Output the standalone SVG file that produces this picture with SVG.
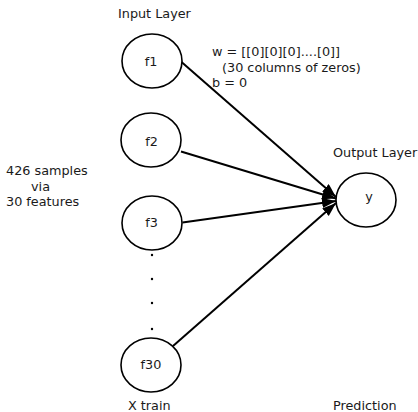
<svg xmlns="http://www.w3.org/2000/svg" width="418" height="412" viewBox="0 0 418 412">
<defs>
<style>
text{font-family:"DejaVu Sans",sans-serif;font-size:12.8px;fill:#1a1a1a}
.node ellipse{fill:#fff;stroke:#000;stroke-width:1.6}
.edge{stroke:#000;stroke-width:2;fill:none;marker-end:url(#ah)}
.c{text-anchor:middle}
</style>
<marker id="ah" markerUnits="userSpaceOnUse" markerWidth="16" markerHeight="11" refX="14" refY="5" orient="auto">
<path d="M0,0 L14,5 L0,10 z" fill="#000"/>
</marker>
</defs>
<rect width="418" height="412" fill="#fff"/>
<text x="118" y="17.5">Input Layer</text>
<text x="333" y="157">Output Layer</text>
<text x="6" y="175">426 samples</text>
<text x="31" y="190.5">via</text>
<text x="6" y="206">30 features</text>
<text x="212" y="56">w = [[0][0][0]....[0]]</text>
<text x="222" y="71.5">(30 columns of zeros)</text>
<text x="212" y="87">b = 0</text>
<text x="128" y="410">X train</text>
<text x="333" y="409.5">Prediction</text>
<g id="connectors">
<line class="edge" x1="181.5" y1="62" x2="336" y2="197"/>
<line class="edge" x1="181" y1="151.5" x2="336" y2="198.5"/>
<line class="edge" x1="182.5" y1="222.5" x2="336" y2="201"/>
<line class="edge" x1="173" y1="346" x2="336" y2="203"/>
</g>
<g id="f1" class="node"><ellipse cx="152" cy="61" rx="30" ry="27"/><text class="c" x="151" y="66">f1</text></g>
<g id="f2" class="node"><ellipse cx="151" cy="140" rx="30" ry="27"/><text class="c" x="151.5" y="146">f2</text></g>
<g id="f3" class="node"><ellipse cx="152" cy="223" rx="30" ry="27"/><text class="c" x="151.5" y="227">f3</text></g>
<g id="dots" fill="#000"><circle cx="152" cy="255" r="1.2"/><circle cx="152" cy="279" r="1.2"/><circle cx="152" cy="303" r="1.2"/><circle cx="152" cy="329" r="1.2"/></g>
<g id="f30" class="node"><ellipse cx="151" cy="365" rx="30" ry="27"/><text class="c" x="151" y="368.5">f30</text></g>
<g id="y" class="node"><ellipse cx="366" cy="200" rx="30" ry="27"/><text class="c" x="369" y="201">y</text></g>
</svg>
